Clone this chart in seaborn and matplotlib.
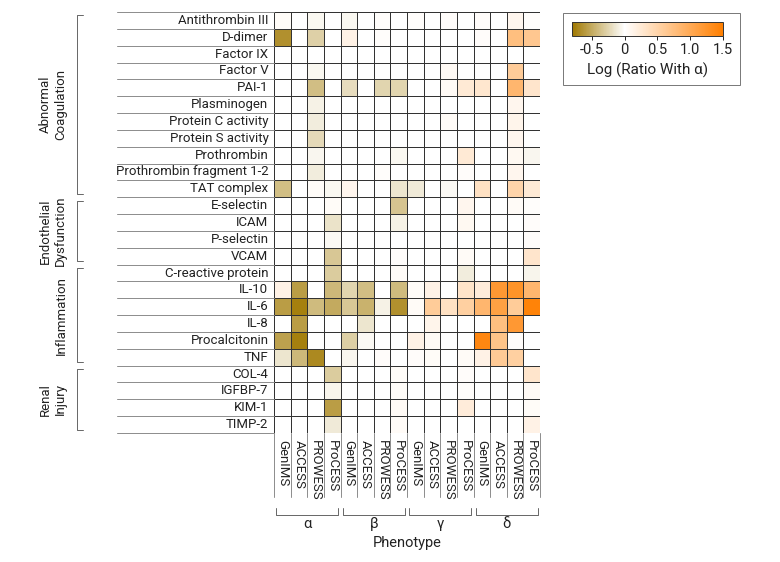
import numpy as np
import pandas as pd
import matplotlib
matplotlib.use("Agg")
import matplotlib.pyplot as plt
import seaborn as sns
from matplotlib.colors import LinearSegmentedColormap
from matplotlib.patches import Rectangle
from matplotlib import font_manager

# --- Data (log ratio with alpha) ---
studies = ["GenIMS", "ACCESS", "PROWESS", "ProCESS"]
phenotypes = ["α", "β", "γ", "δ"]

coag_markers = ["Antithrombin III", "D-dimer", "Factor IX", "Factor V", "PAI-1",
                "Plasminogen", "Protein C activity", "Protein S activity",
                "Prothrombin", "Prothrombin fragment 1-2", "TAT complex"]
endo_markers = ["E-selectin", "ICAM", "P-selectin", "VCAM"]
infl_markers = ["C-reactive protein", "IL-10", "IL-6", "IL-8", "Procalcitonin", "TNF"]
renal_markers = ["COL-4", "IGFBP-7", "KIM-1", "TIMP-2"]

coag_vals = [
    [0.04, 0, -0.04, 0, -0.04, 0, 0.02, 0, 0.02, 0, 0.03, 0, 0.03, 0, 0.10, 0.02],
    [-0.65, 0, -0.27, 0, 0.15, 0, 0.02, 0, 0, 0, 0, 0, 0.03, 0, 0.75, 0.65],
    [0, 0, 0, 0, 0, 0, 0, 0, 0, 0, 0, 0, 0, 0, 0, 0],
    [0, 0, -0.04, 0, 0, 0, 0, 0, 0, 0, 0.06, 0, 0, 0, 0.60, 0],
    [0, 0, -0.38, 0, -0.20, 0, -0.25, -0.25, 0, 0, 0.06, 0.25, 0.28, 0, 0.85, 0.30],
    [0, 0, -0.08, 0, 0, 0, 0, 0, 0, 0, 0, 0, 0, 0, 0.10, 0],
    [0, 0, -0.10, 0, 0, 0, 0, 0, 0, 0, 0.05, 0, 0, 0, 0.12, 0],
    [0, 0, -0.22, 0, 0, 0, 0, 0, 0, 0, 0, 0, 0, 0, 0.10, 0],
    [0, 0, -0.05, 0, 0, 0, 0, -0.04, 0, 0, 0, 0.25, 0, 0, 0.08, -0.05],
    [0, 0, -0.10, 0, 0, 0, 0.02, 0, 0, 0, 0, 0.03, 0, 0, 0.10, 0],
    [-0.38, 0, 0.04, -0.04, 0.10, 0, 0, -0.15, -0.12, 0, -0.03, 0, 0.35, 0, 0.50, 0.25],
]
endo_vals = [
    [0, 0, 0, 0.04, 0, 0, 0, -0.35, 0, 0, 0, 0.10, 0, 0, 0.05, 0.02],
    [0, 0, 0, -0.17, 0, 0, 0, -0.08, 0, 0, 0, 0.08, 0, 0, 0, 0.03],
    [0, 0, 0, -0.03, 0, 0, 0, 0, 0, 0, 0, 0, 0, 0, 0, 0.03],
    [0, 0, 0, -0.33, 0, 0, 0, 0.03, 0, 0, 0, 0.05, 0, 0, 0, 0.30],
]
infl_vals = [
    [0, 0, 0, -0.30, 0, 0, 0, 0.05, 0, 0, 0, -0.10, 0, 0, 0, -0.06],
    [0.15, -0.58, 0, -0.42, -0.25, -0.38, 0, -0.40, 0.04, 0.15, 0, 0.32, 0.22, 1.20, 1.25, 0.85],
    [-0.58, -0.75, -0.40, -0.50, -0.33, -0.45, -0.08, -0.65, 0.05, 0.60, 0.35, 0.55, 0.85, 1.10, 0.60, 1.45],
    [0, -0.58, 0, 0, 0, -0.15, 0, 0, 0, 0.12, 0, 0, 0, 0.75, 1.20, 0],
    [-0.55, -0.75, 0, 0, -0.28, -0.03, 0, 0, 0.15, 0.06, 0, 0, 1.40, 0.70, 0.03, 0],
    [-0.15, -0.42, -0.70, 0, -0.05, 0, 0.03, 0, 0.03, 0.04, 0, 0.05, 0.15, 0.62, 0.55, 0],
]
renal_vals = [
    [0, 0, 0, -0.30, 0, 0, 0, 0.04, 0, 0, 0, 0.03, 0, 0, 0, 0.30],
    [0, 0, 0, -0.06, 0, 0, 0, 0.04, 0, 0, 0, 0.02, 0, 0, 0, 0.06],
    [0, 0, 0, -0.58, 0, 0, 0, 0.06, 0, 0, 0, 0.22, 0, 0, 0, 0.04],
    [0, 0, 0, -0.12, 0, 0, 0, 0.05, 0, 0, 0, 0, 0, 0, 0, 0.15],
]

categories = [("Abnormal\nCoagulation", coag_markers),
              ("Endothelial\nDysfunction", endo_markers),
              ("Inflammation", infl_markers),
              ("Renal\nInjury", renal_markers)]

markers = coag_markers + endo_markers + infl_markers + renal_markers
columns = [f"{p} {s}" for p in phenotypes for s in studies]
df = pd.DataFrame(coag_vals + endo_vals + infl_vals + renal_vals,
                  index=markers, columns=columns)

# --- Style ---
sns.set_style("white")
installed = {f.name for f in font_manager.fontManager.ttflist}
narrow = [f for f in ["Liberation Sans Narrow", "DejaVu Sans Condensed"] if f in installed]
plt.rcParams['font.family'] = narrow + ['Roboto', 'DejaVu Sans']
TXT = "#222222"
FS = 10 if narrow else 9.5

VMIN, VMAX = -0.8, 1.5
cmap = LinearSegmentedColormap.from_list(
    "ratio", [(0, "#a07800"), (-VMIN / (VMAX - VMIN), "#ffffff"), (1, "#ff7f00")])

W, H = 780, 562
fig = plt.figure(figsize=(W / 100, H / 100), dpi=100)
ax = fig.add_axes([274 / W, 1 - 433 / H, 266 / W, 421 / H])
cax = fig.add_axes([572 / W, 1 - 36 / H, 151 / W, 14 / H])

sns.heatmap(df, ax=ax, cmap=cmap, vmin=VMIN, vmax=VMAX,
            linewidths=0.55, linecolor="#333333", cbar_ax=cax,
            cbar_kws={"orientation": "horizontal", "ticks": [-0.5, 0, 0.5, 1.0, 1.5]})

# --- Tick labels ---
n_rows, n_cols = df.shape
ax.set_yticks(np.arange(n_rows) + 0.5)
ax.set_yticklabels(markers, fontsize=FS, color=TXT, rotation=0)
ax.set_xticks(np.arange(n_cols) + 0.5)
ax.set_xticklabels(studies * 4, fontsize=FS, color=TXT, rotation=270, va="top", ha="center")
ax.tick_params(axis="y", length=0, pad=4)
ax.tick_params(axis="x", length=0, pad=5)
ax.set_xlabel("")
ax.set_ylabel("")

line_kw = dict(color="#8c8c8c", lw=0.7, clip_on=False)

# row label rules
for i in range(n_rows + 1):
    ax.plot([-9.44, 0], [i, i], **line_kw)

# column label rules
for j in range(n_cols + 1):
    ax.plot([j, j], [n_rows, n_rows + 3.8], **line_kw)

# phenotype brackets
for g, ph in enumerate(phenotypes):
    x0, x1 = 4 * g + 0.15, 4 * g + 3.85
    ax.plot([x0, x0, x1, x1], [29.45, 29.87, 29.87, 29.45], color="#666666", lw=0.7, clip_on=False)
    ax.text(4 * g + 2, 30.4, ph, ha="center", va="center", fontsize=FS + 1, color=TXT)
ax.text(8, 31.55, "Phenotype", ha="center", va="center", fontsize=FS + 1, color=TXT)

# category brackets on the left
start = 0
for label, mk in categories:
    r0, r1 = start, start + len(mk)
    y0, y1 = r0 + 0.2, r1 - 0.2
    ax.plot([-11.5, -11.85, -11.85, -11.5], [y0, y0, y1, y1], color="#666666", lw=0.7, clip_on=False)
    xt = -13.3 if "\n" in label else -12.8
    ax.text(xt, (r0 + r1) / 2, label, rotation=90, ha="center", va="center",
            multialignment="center", fontsize=FS, color=TXT, linespacing=1.25)
    start = r1

# --- Colorbar ---
cbar = ax.collections[0].colorbar
cbar.outline.set_linewidth(0.7)
cbar.outline.set_edgecolor("#333333")
cax.set_xticklabels(["-0.5", "0", "0.5", "1.0", "1.5"])
cax.tick_params(axis="x", length=3, width=0.7, labelsize=FS + 1, pad=2, colors=TXT)
cax.set_xlabel("Log (Ratio With α)", fontsize=FS + 1.5, labelpad=4, color=TXT)

fig.add_artist(Rectangle((563 / W, 1 - 85 / H), 177 / W, 72 / H, transform=fig.transFigure,
                         fill=False, edgecolor="#777777", lw=0.7))

fig.savefig("out.png", dpi=100)
